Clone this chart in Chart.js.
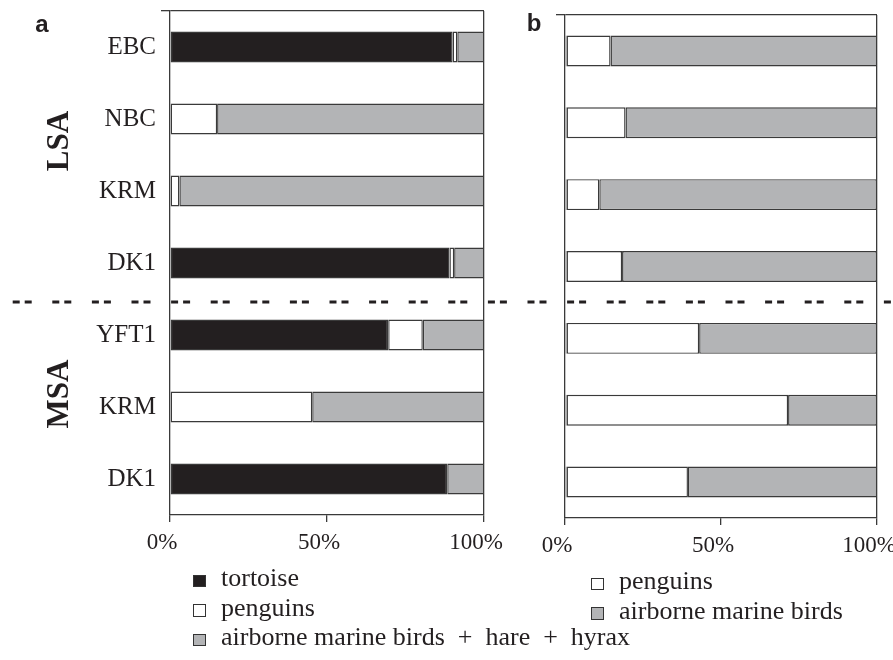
<!DOCTYPE html>
<html lang="en">
<head>
<meta charset="UTF-8">
<title>Prey composition by site</title>
<script src="https://cdn.jsdelivr.net/npm/chart.js"></script>
<style>
  body { margin: 0; background: #fff; }
  #wrap { position: relative; width: 893px; height: 660px; overflow: hidden; font-family: "Liberation Serif", "Times New Roman", serif; color: #231f20; }
  #wrap canvas { position: absolute; left: 0; top: 0; }
  .panel { position: absolute; font: bold 24px "Liberation Sans", Arial, sans-serif; transform: translate(-50%, -50%); }
  .group { position: absolute; font-weight: bold; font-size: 31px; white-space: nowrap; transform: translate(-50%, -50%) rotate(-90deg); }
  .legend { position: absolute; font-size: 26px; }
  .legend div { height: 29.5px; line-height: 29.5px; white-space: pre; }
  .legend span { display: inline-block; width: 10.5px; height: 10.5px; border: 1px solid #333; margin-right: 15.5px; vertical-align: -1px; }
</style>
</head>
<body>
<div id="wrap">
  <canvas id="chartA" width="893" height="660"></canvas>
  <canvas id="chartB" width="893" height="660"></canvas>
  <div class="panel" style="left:42px; top:24px;">a</div>
  <div class="panel" style="left:534px; top:23px;">b</div>
  <div class="legend" id="legendA" style="left:193px; top:563px;"></div>
  <div class="legend" id="legendB" style="left:591px; top:566px;"></div>
</div>

<script>
  // sites, top to bottom; first 4 are LSA, last 3 MSA
  const sites = ['EBC', 'NBC', 'KRM', 'DK1', 'YFT1', 'KRM', 'DK1'];
  const groups = ['LSA', 'MSA'];
  const groupSizes = [4, 3];
  const groupCentres = [141, 394];

  // panel a (% of prey)
  const tortoiseA = [90, 0, 0, 89, 69.5, 0, 88.3];
  const penguinsA = [1.5, 15, 3, 1.5, 11, 45.3, 0];
  const airborneHareHyraxA = [8.5, 85, 97, 9.5, 19.5, 54.7, 11.7];

  // panel b
  const tortoiseB = [0.5, 0.5, 0.5, 0.5, 0.5, 0.5, 0.5];
  const penguinsB = [14.1, 18.9, 10.5, 17.8, 42.5, 71, 38.9];
  const airborneB = [85.4, 80.6, 89, 81.7, 57, 28.5, 60.6];

  const xTicks = [0, 50, 100];

  const ink = '#231f20';
  const line = '#3a3a3a';
  const black = '#231f20';
  const white = '#ffffff';
  const grey = '#b3b4b6';

  function bar(label, data, colour, inLegend) {
    return {
      label: label, data: data, backgroundColor: colour,
      borderColor: line, borderWidth: 1.4, borderSkipped: false,
      categoryPercentage: 1, barPercentage: 0.43, inLegend: inLegend
    };
  }

  function options(cfg) {
    return {
      responsive: false,
      animation: false,
      indexAxis: 'y',
      layout: { padding: { top: cfg.top, right: cfg.right, left: 0, bottom: 0 } },
      plugins: { legend: { display: false }, tooltip: { enabled: false } },
      scales: {
        x: {
          stacked: true, min: 0, max: 100,
          afterBuildTicks: s => { s.ticks = xTicks.map(v => ({ value: v })); },
          afterFit: s => { s.height = 660 - cfg.bottom; s.paddingLeft = 0; s.paddingRight = 0; },
          ticks: {
            callback: v => v + '%', color: ink, padding: 7, labelOffset: -8, maxRotation: 0,
            font: { family: 'Liberation Serif', size: 23 }
          },
          grid: {
            color: c => (c.tick && c.tick.value === 100) ? line : 'transparent',
            tickColor: line, tickLength: 7, lineWidth: 1.3
          },
          border: { display: true, color: line, width: 1.3 }
        },
        y: {
          stacked: true, offset: true,
          afterFit: s => { s.width = cfg.left; s.paddingTop = 0; s.paddingBottom = 0; },
          ticks: {
            display: cfg.labels, color: ink, padding: 5,
            font: { family: 'Liberation Serif', size: 25 }
          },
          grid: {
            offset: true, lineWidth: 1.3, tickLength: 9,
            color: c => c.index === 0 ? line : 'transparent',
            tickColor: c => (c.index === 0 || c.index === sites.length) ? line : 'transparent'
          },
          border: { display: true, color: line, width: 1.3 }
        }
      }
    };
  }

  // dashed separator between the LSA and MSA groups, across both panels
  const divider = {
    id: 'divider',
    afterDraw(chart) {
      const y = chart.scales.y;
      const n = groupSizes[0];
      const yy = (y.getPixelForValue(n - 1) + y.getPixelForValue(n)) / 2 + 3;
      const ctx = chart.ctx;
      ctx.save();
      ctx.setLineDash([7, 5, 7, 20.6]);
      ctx.lineWidth = 3;
      ctx.strokeStyle = ink;
      ctx.beginPath();
      ctx.moveTo(12.7, yy);
      ctx.lineTo(chart.width, yy);
      ctx.stroke();
      ctx.restore();
    }
  };

  const chartA = new Chart(document.getElementById('chartA'), {
    type: 'bar',
    data: {
      labels: sites,
      datasets: [
        bar('tortoise', tortoiseA, black, true),
        bar('penguins', penguinsA, white, true),
        bar('airborne marine birds  +  hare  +  hyrax', airborneHareHyraxA, grey, true)
      ]
    },
    options: options({ left: 170, top: 11, right: 893 - 484, bottom: 515, labels: true }),
    plugins: [divider]
  });

  const chartB = new Chart(document.getElementById('chartB'), {
    type: 'bar',
    data: {
      labels: sites,
      datasets: [
        bar('tortoise', tortoiseB, black, false),
        bar('penguins', penguinsB, white, true),
        bar('airborne marine birds', airborneB, grey, true)
      ]
    },
    options: options({ left: 565, top: 15, right: 893 - 877, bottom: 518, labels: false })
  });

  function buildLegend(chart, id) {
    const box = document.getElementById(id);
    chart.data.datasets.filter(d => d.inLegend).forEach(d => {
      const row = document.createElement('div');
      const sw = document.createElement('span');
      sw.style.background = d.backgroundColor;
      row.appendChild(sw);
      row.appendChild(document.createTextNode(d.label));
      box.appendChild(row);
    });
  }
  buildLegend(chartA, 'legendA');
  buildLegend(chartB, 'legendB');

  const wrap = document.getElementById('wrap');
  groups.forEach((g, i) => {
    const el = document.createElement('div');
    el.className = 'group';
    el.textContent = g;
    el.style.left = '58px';
    el.style.top = groupCentres[i] + 'px';
    wrap.appendChild(el);
  });
</script>
</body>
</html>
